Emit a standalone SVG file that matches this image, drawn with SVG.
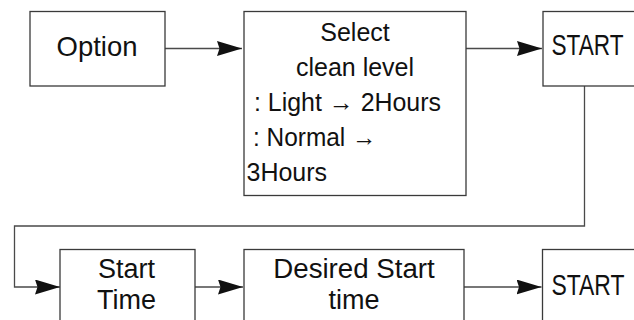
<svg xmlns="http://www.w3.org/2000/svg" width="634" height="320" viewBox="0 0 634 320">
<style>
.box{fill:#fff;stroke:#3a3a3a;stroke-width:1.3}
.t{font-family:"Liberation Sans",Arial,Helvetica,sans-serif;fill:#111}
.c{text-anchor:middle}
.ln{fill:none;stroke:#4a4a4a;stroke-width:1.3}
</style>
<defs>
<marker id="ah" markerUnits="userSpaceOnUse" markerWidth="26" markerHeight="16" refX="25" refY="7.5" orient="auto" viewBox="0 0 26 16">
<path d="M0,0 L25,7.5 L0,15 L2.5,7.5 Z" fill="#111"/>
</marker>
</defs>
<rect width="634" height="320" fill="#fff"/>
<g id="connectors">
<line class="ln" x1="165" y1="48.5" x2="242" y2="48.5" marker-end="url(#ah)"/>
<line class="ln" x1="466" y1="48.5" x2="542" y2="48.5" marker-end="url(#ah)"/>
<polyline class="ln" points="584.5,86 584.5,226 14.5,226 14.5,287 60,287" marker-end="url(#ah)"/>
<line class="ln" x1="195" y1="287" x2="243" y2="287" marker-end="url(#ah)"/>
<line class="ln" x1="464" y1="287" x2="541.5" y2="287" marker-end="url(#ah)"/>
</g>
<g id="option">
<rect class="box" x="30" y="11.5" width="135" height="74.5"/>
<text class="t c" x="97" y="56" font-size="28" textLength="81" lengthAdjust="spacingAndGlyphs">Option</text>
</g>
<g id="select">
<rect class="box" x="244" y="11.5" width="222" height="184"/>
<text class="t c" x="355" y="40.7" font-size="25">Select</text>
<text class="t c" x="355" y="75.7" font-size="25">clean level</text>
<text class="t" x="254" y="110.7" font-size="25" textLength="187" lengthAdjust="spacingAndGlyphs">: Light → 2Hours</text>
<text class="t" x="253" y="145.7" font-size="25" textLength="123.5" lengthAdjust="spacingAndGlyphs">: Normal →</text>
<text class="t" x="246.5" y="180.7" font-size="25">3Hours</text>
</g>
<g id="start1">
<rect class="box" x="543" y="11.5" width="100" height="74.5"/>
<text class="t" x="551.5" y="55" font-size="30" textLength="72" lengthAdjust="spacingAndGlyphs">START</text>
</g>
<g id="starttime">
<rect class="box" x="60" y="249.5" width="135" height="80"/>
<text class="t c" x="126.5" y="277.7" font-size="27">Start</text>
<text class="t c" x="126.5" y="309" font-size="27">Time</text>
</g>
<g id="desired">
<rect class="box" x="244" y="249.5" width="220" height="80"/>
<text class="t c" x="354" y="277.7" font-size="27" textLength="161.5" lengthAdjust="spacingAndGlyphs">Desired Start</text>
<text class="t c" x="354" y="309" font-size="27">time</text>
</g>
<g id="start2">
<rect class="box" x="542.5" y="249.5" width="100" height="80"/>
<text class="t" x="551.5" y="295" font-size="30" textLength="73" lengthAdjust="spacingAndGlyphs">START</text>
</g>
</svg>
